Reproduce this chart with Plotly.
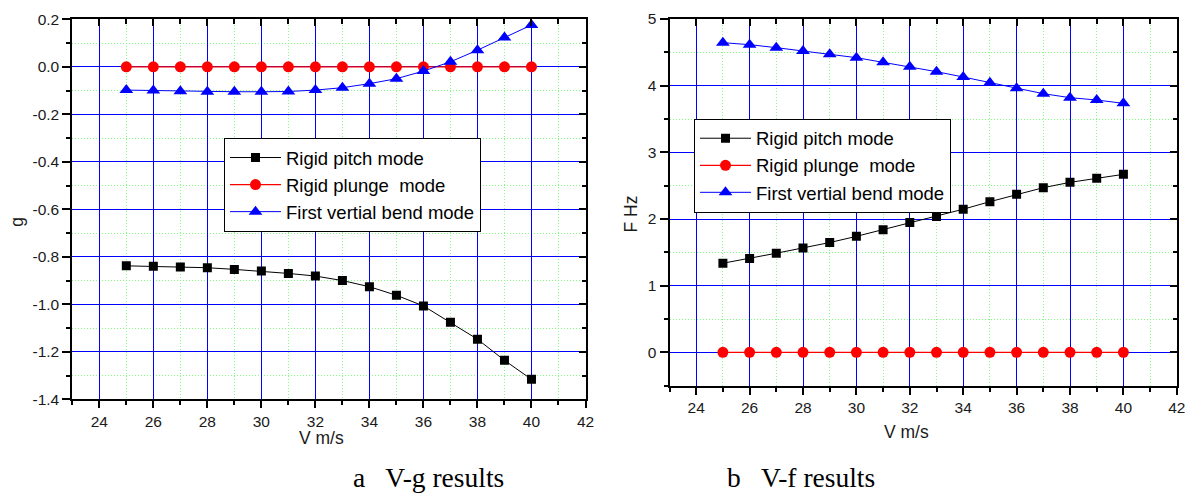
import plotly.graph_objects as go

# ---------------- data ----------------
speed = [25, 26, 27, 28, 29, 30, 31, 32, 33, 34, 35, 36, 37, 38, 39, 40]

g_pitch = [-0.838, -0.840, -0.843, -0.846, -0.853, -0.860, -0.870, -0.881, -0.900,
           -0.926, -0.962, -1.007, -1.076, -1.147, -1.236, -1.316]
g_plunge = [0.0] * 16
g_bend = [-0.098, -0.100, -0.103, -0.105, -0.105, -0.105, -0.104, -0.098, -0.088,
          -0.071, -0.050, -0.018, 0.021, 0.070, 0.123, 0.176]

f_pitch = [1.337, 1.407, 1.487, 1.567, 1.647, 1.740, 1.840, 1.946, 2.036,
           2.147, 2.260, 2.370, 2.470, 2.550, 2.610, 2.670]
f_plunge = [0.0] * 16
f_bend = [4.645, 4.615, 4.570, 4.520, 4.470, 4.420, 4.350, 4.285, 4.210,
          4.130, 4.045, 3.960, 3.880, 3.820, 3.785, 3.735]

series_names = ["Rigid pitch mode", "Rigid plunge\u00a0 mode", "First vertial bend mode"]

x_ticks = [24, 26, 28, 30, 32, 34, 36, 38, 40, 42]
x_ticklabels = ["24", "26", "28", "30", "32", "34", "36", "38", "40", "42"]
g_ticks = [0.2, 0.0, -0.2, -0.4, -0.6, -0.8, -1.0, -1.2, -1.4]
g_ticklabels = ["0.2", "0.0", "-0.2", "-0.4", "-0.6", "-0.8", "-1.0", "-1.2", "-1.4"]
f_ticks = [0, 1, 2, 3, 4, 5]
f_ticklabels = ["0", "1", "2", "3", "4", "5"]

# ---------------- styling ----------------
# the page body has an 8px margin, so the figure is sized to fill the
# remaining window area and positions are given in window pixels.
OFF = 8
W, H = 1193 - OFF, 493 - OFF
FONT = "Arial, 'Liberation Sans', sans-serif"
SERIF = "'Times New Roman', 'Liberation Serif', serif"
TXT = "#1a1a1a"
MAJOR_GRID = "#0000ff"
MINOR_GRID = "#7dff7d"


def px(v):
    return (v - OFF) / W


def py(v):
    return 1 - (v - OFF) / H


left_dom_x = [px(72.3), px(585.5)]
left_dom_y = [py(399.3), py(19.3)]
right_dom_x = [px(669.5), px(1176.8)]
right_dom_y = [py(385.7), py(19.0)]

styles = [
    dict(color="black", symbol="square", size=9, lw=1),
    dict(color="#ff0000", symbol="circle", size=11, lw=1.2),
    dict(color="#0000ff", symbol="triangle-up", size=12, lw=1),
]

fig = go.Figure()


def add_series(xa, ya, ys, legend):
    for name, y, st in zip(series_names, ys, styles):
        fig.add_trace(go.Scatter(
            x=speed, y=y, name=name, mode="lines+markers",
            xaxis=xa, yaxis=ya, legend=legend,
            line=dict(color=st["color"], width=st["lw"]),
            marker=dict(color=st["color"], symbol=st["symbol"], size=st["size"],
                        line=dict(width=0)),
        ))


add_series("x", "y", [g_pitch, g_plunge, g_bend], "legend")
add_series("x2", "y2", [f_pitch, f_plunge, f_bend], "legend2")

# dummy traces so the mirrored (top/right) axes exist
for xa, ya in [("x3", "y"), ("x", "y3"), ("x4", "y2"), ("x2", "y4")]:
    fig.add_trace(go.Scatter(x=[None], y=[None], xaxis=xa, yaxis=ya,
                             showlegend=False, hoverinfo="skip"))

tickfont = dict(family=FONT, size=15.5, color=TXT)


def main_x(dom, anchor, rng):
    return dict(domain=dom, anchor=anchor, range=rng, tickmode="array",
                tickvals=x_ticks, ticktext=x_ticklabels, ticks="outside",
                ticklen=7, tickwidth=2, tickcolor="black", showline=True,
                linecolor="black", linewidth=2, showgrid=True,
                gridcolor=MAJOR_GRID, gridwidth=1, zeroline=False,
                tickfont=tickfont, automargin=False, layer="above traces",
                minor=dict(tickmode="linear", tick0=0, dtick=1, ticks="outside",
                           ticklen=4, tickwidth=2, tickcolor="black",
                           showgrid=True, gridcolor=MINOR_GRID, gridwidth=1,
                           griddash="1px,2px"))


def main_y(dom, anchor, rng, tv, tt, minor_dt):
    return dict(domain=dom, anchor=anchor, range=rng, tickmode="array",
                tickvals=tv, ticktext=tt, ticks="outside",
                ticklen=8, tickwidth=2, tickcolor="black", showline=True,
                linecolor="black", linewidth=2, showgrid=True,
                gridcolor=MAJOR_GRID, gridwidth=1, zeroline=False,
                tickfont=tickfont, automargin=False, layer="above traces",
                minor=dict(tickmode="linear", tick0=0, dtick=minor_dt, ticks="outside",
                           ticklen=4, tickwidth=2, tickcolor="black",
                           showgrid=True, gridcolor=MINOR_GRID, gridwidth=1,
                           griddash="1px,2px"))


def mirror_x(overlay, anchor, rng):
    return dict(overlaying=overlay, anchor=anchor, side="top", range=rng,
                tickmode="array", tickvals=x_ticks, showticklabels=False,
                ticks="inside", ticklen=7, tickwidth=2, tickcolor="black",
                showline=True, linecolor="black", linewidth=2, showgrid=False,
                zeroline=False, automargin=False,
                minor=dict(tickmode="linear", tick0=0, dtick=1, ticks="inside",
                           ticklen=5, tickwidth=2, tickcolor="black", showgrid=False))


def mirror_y(overlay, anchor, rng, tv, minor_dt):
    return dict(overlaying=overlay, anchor=anchor, side="right", range=rng,
                tickmode="array", tickvals=tv, showticklabels=False,
                ticks="inside", ticklen=7, tickwidth=2, tickcolor="black",
                showline=True, linecolor="black", linewidth=2, showgrid=False,
                zeroline=False, automargin=False,
                minor=dict(tickmode="linear", tick0=0, dtick=minor_dt, ticks="inside",
                           ticklen=4, tickwidth=2, tickcolor="black", showgrid=False))


xr = [23, 42]
g_range = [-1.4, 0.2]
f_range = [-0.5, 5]

legend_style = dict(font=dict(family=FONT, size=18.5, color="black"),
                    bgcolor="white", bordercolor="black", borderwidth=1,
                    xanchor="left", yanchor="top", tracegroupgap=0,
                    itemwidth=51)

annots = [
    dict(text="g", x=px(16.7), y=py(222), textangle=-90),
    dict(text="V m/s", x=px(321.5), y=py(438)),
    dict(text="F Hz", x=px(630.5), y=py(214), textangle=-90),
    dict(text="V m/s", x=px(906), y=py(432)),
]
annotations = [dict(a, xref="paper", yref="paper", showarrow=False,
                    xanchor="center", yanchor="middle",
                    font=dict(family=FONT, size=17.5, color=TXT)) for a in annots]
annotations += [
    dict(text="a\u00a0\u00a0 V-g results", x=px(428), y=py(477.5), xref="paper",
         yref="paper", showarrow=False, xanchor="center", yanchor="middle",
         font=dict(family=SERIF, size=27.5, color="black")),
    dict(text="b\u00a0\u00a0 V-f results", x=px(800.5), y=py(477.5), xref="paper",
         yref="paper", showarrow=False, xanchor="center", yanchor="middle",
         font=dict(family=SERIF, size=27.5, color="black")),
]

fig.update_layout(
    template="none",
    width=W, height=H,
    margin=dict(l=0, r=0, t=0, b=0, autoexpand=False),
    paper_bgcolor="white", plot_bgcolor="white",
    xaxis=main_x(left_dom_x, "y", xr),
    yaxis=main_y(left_dom_y, "x", g_range, g_ticks, g_ticklabels, 0.1),
    xaxis3=mirror_x("x", "y", xr),
    yaxis3=mirror_y("y", "x", g_range, g_ticks, 0.1),
    xaxis2=main_x(right_dom_x, "y2", xr),
    yaxis2=main_y(right_dom_y, "x2", f_range, f_ticks, f_ticklabels, 0.5),
    xaxis4=mirror_x("x2", "y2", xr),
    yaxis4=mirror_y("y2", "x2", f_range, f_ticks, 0.5),
    legend=dict(legend_style, x=px(224), y=py(138)),
    legend2=dict(legend_style, x=px(694), y=py(118.7)),
    annotations=annotations,
    showlegend=True,
)

fig.write_html("out.html")
